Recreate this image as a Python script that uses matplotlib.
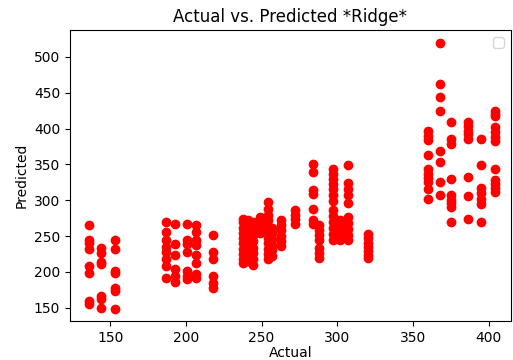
import matplotlib
matplotlib.use('Agg')
import matplotlib.pyplot as plt

# one line per actual value (column of points)
actual = [
    136, 136, 136, 136, 136, 136, 136, 136,
    144, 144, 144, 144, 144, 144, 144,
    153, 153, 153, 153, 153, 153, 153,
    187, 187, 187, 187, 187, 187, 187, 187,
    193, 193, 193, 193, 193, 193,
    201, 201, 201, 201, 201, 201, 201,
    207, 207, 207, 207, 207, 207, 207, 207,
    218, 218, 218, 218, 218, 218,
    238, 238, 238, 238, 238, 238, 238, 238, 238, 238,
    241, 241, 241, 241, 241, 241, 241, 241,
    244, 244, 244, 244, 244, 244, 244, 244,
    249, 249, 249, 249,
    254, 254, 254, 254, 254, 254, 254, 254, 254, 254, 254,
    257, 257, 257, 257, 257, 257,
    263, 263, 263, 263, 263, 263,
    272, 272, 272, 272,
    284, 284, 284, 284, 284, 284, 284,
    288, 288, 288, 288, 288, 288, 288,
    297, 297, 297, 297, 297, 297, 297, 297, 297, 297, 297, 297, 297,
    302, 302, 302, 302, 302,
    307, 307, 307, 307, 307, 307, 307, 307, 307, 307,
    320, 320, 320, 320, 320, 320, 320,
    360, 360, 360, 360, 360, 360, 360, 360, 360, 360,
    368, 368, 368, 368, 368, 368, 368, 368,
    375, 375, 375, 375, 375, 375, 375, 375, 375,
    386, 386, 386, 386, 386, 386, 386, 386,
    395, 395, 395, 395, 395, 395, 395,
    404, 404, 404, 404, 404, 404, 404, 404, 404, 404, 404, 404,
]
predicted = [
    266, 245, 240, 232, 209, 199, 159, 155,
    233, 227, 214, 211, 167, 162, 150,
    244, 232, 202, 199, 178, 173, 149,
    270, 256, 244, 235, 228, 218, 209, 192,
    267, 239, 223, 204, 195, 186,
    267, 244, 239, 228, 202, 195, 190,
    266, 256, 244, 237, 223, 213, 197, 192,
    251, 228, 218, 195, 185, 178,
    274, 270, 262, 255, 248, 240, 232, 225, 218, 212,
    272, 264, 256, 248, 240, 232, 224, 216,
    270, 261, 252, 243, 234, 226, 218, 210,
    276, 268, 262, 254,
    297, 288, 280, 272, 264, 256, 248, 240, 232, 225, 218,
    262, 254, 246, 238, 230, 222,
    272, 265, 258, 250, 243, 236,
    286, 280, 274, 267,
    351, 340, 314, 309, 288, 272, 267,
    265, 258, 251, 244, 234, 227, 220,
    344, 337, 330, 322, 315, 307, 299, 286, 278, 270, 262, 253, 244,
    272, 265, 258, 251, 244,
    349, 324, 316, 307, 296, 276, 268, 260, 252, 244,
    253, 247, 241, 235, 229, 224, 219,
    396, 390, 384, 363, 344, 337, 331, 326, 316, 302,
    519, 462, 444, 425, 368, 354, 326, 307,
    409, 386, 379, 329, 307, 301, 296, 291, 270,
    409, 403, 397, 392, 386, 333, 306, 274,
    386, 349, 317, 310, 302, 295, 270,
    425, 420, 417, 402, 395, 388, 382, 343, 328, 322, 317, 312,
]

fig = plt.figure(figsize=(5.13, 3.6), dpi=100)
ax = fig.add_axes([0.1365, 0.108, 0.859, 0.809])

ax.scatter(actual, predicted, color='red')
ax.set_xlim(123.5, 414.5)
ax.set_ylim(131.5, 537.5)
ax.set_title('Actual vs. Predicted *Ridge*')
ax.set_xlabel('Actual', labelpad=1)
ax.set_ylabel('Predicted')
ax.legend()

fig.savefig('out.png', dpi=100)
